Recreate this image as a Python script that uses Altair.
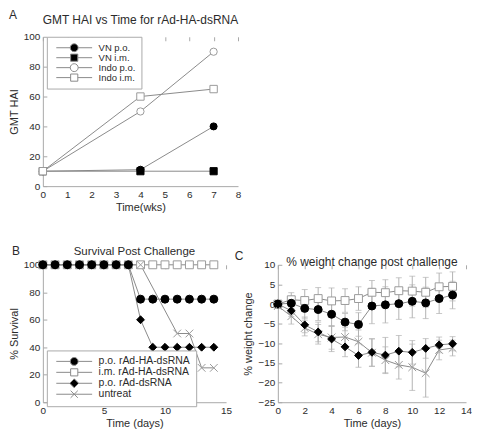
import altair as alt
import pandas as pd

FONT = "Liberation Sans"
LINE = "#8a8a8a"
OPEN = "#9a9a9a"
AXIS = "#a8a8a8"
TXT = "#2b2b2b"
ERR = "#b2b2b2"

# ---------------- Panel A data ----------------
a_weeks = [0, 4, 7]
a_series = ["VN p.o.", "VN i.m.", "Indo p.o.", "Indo i.m."]
a_vn_po = [10, 11, 40]
a_vn_im = [10, 10, 10]
a_indo_po = [10, 50, 90]
a_indo_im = [10, 60, 65]
a_x_ticks = [0, 1, 2, 3, 4, 5, 6, 7, 8]
a_y_ticks = [0, 20, 40, 60, 80, 100]

# ---------------- Panel B data ----------------
b_series = ["p.o. rAd-HA-dsRNA", "i.m. rAd-HA-dsRNA", "p.o. rAd-dsRNA", "untreat"]
b_days = [0, 1, 2, 3, 4, 5, 6, 7, 8, 9, 10, 11, 12, 13, 14]
b_po_ha = [100, 100, 100, 100, 100, 100, 100, 100, 75, 75, 75, 75, 75, 75, 75]
b_im_ha = [100, 100, 100, 100, 100, 100, 100, 100, 100, 100, 100, 100, 100, 100, 100]
b_po_ds = [100, 100, 100, 100, 100, 100, 100, 100, 60, 40, 40, 40, 40, 40, 40]
b_untreat_days = [0, 1, 2, 3, 4, 5, 6, 7, 8, 11, 12, 13, 14]
b_untreat = [100, 100, 100, 100, 100, 100, 100, 100, 100, 50, 50, 25, 25]
b_x_ticks = [0, 5, 10, 15]
b_y_ticks = [0, 20, 40, 60, 80, 100]

# ---------------- Panel C data ----------------
c_days = [0, 1, 2, 3, 4, 5, 6, 7, 8, 9, 10, 11, 12, 13]
c_im_mean = [0, 1.1, 0.9, 1.4, 0.8, 0.9, 1.4, 3.0, 2.9, 3.4, 3.3, 3.0, 4.4, 4.5]
c_im_sd = [0, 1.8, 2.8, 2.8, 3.3, 3.0, 3.0, 3.0, 3.3, 3.3, 3.8, 3.8, 3.5, 3.7]
c_po_mean = [0, 0.2, -1.1, -1.4, -2.6, -4.6, -5.2, -0.5, -0.2, 0.1, 0.7, 0.3, 1.4, 2.3]
c_po_sd = [0, 1.5, 2.5, 2.8, 3.0, 2.2, 3.0, 4.5, 4.6, 4.0, 4.2, 4.0, 3.8, 3.5]
c_ds_mean = [0, -1.7, -5.3, -7.1, -8.9, -10.9, -13.1, -12.3, -13.0, -12.0, -12.3, -11.3, -10.4, -10.1]
c_ds_sd = [0, 1.5, 2.0, 2.5, 3.2, 2.5, 3.0, 3.5, 4.5, 4.0, 3.0, 2.5, 2.0, 1.8]
c_un_mean = [-0.5, -3.1, -6.1, -7.7, -8.5, -8.4, -9.6, -12.4, -14.3, -15.5, -16.1, -17.6, -11.7, -11.2]
c_un_sd = [0.5, 2.0, 2.0, 2.5, 3.0, 2.5, 3.0, 3.5, 3.4, 3.6, 5.9, 6.1, 2.5, 2.0]
c_x_ticks = [0, 2, 4, 6, 8, 10, 12, 14]
c_y_ticks = [-25, -20, -15, -10, -5, 0, 5, 10]

# ---------------- marker shapes ----------------
X_PATH = "M-1,-1L1,1M-1,1L1,-1"
L_CIRCLE = "M-1,0H-0.22M0.22,0H1M0.22,0A0.22,0.22,0,1,1,-0.22,0A0.22,0.22,0,1,1,0.22,0Z"
L_SQUARE = "M-1,0H-0.2M0.2,0H1M-0.2,-0.2H0.2V0.2H-0.2Z"
L_DIAMOND = "M-1,0H-0.25M0.25,0H1M0,-0.25L0.25,0L0,0.25L-0.25,0Z"
L_X = "M-1,0H1M-0.2,-0.2L0.2,0.2M-0.2,0.2L0.2,-0.2"


def ax(vals, title):
    # inward ticks are drawn as short dashed grid segments starting at the axis
    return alt.Axis(values=vals, title=title, labelOverlap=False, labelFlush=False,
                    grid=True, gridDash=[4, 2000], gridColor=AXIS, gridWidth=1,
                    ticks=False)


def text_layer(t, dx, dy, size, align):
    return alt.Chart(pd.DataFrame({"lab": [t]})).mark_text(
        font=FONT, fontSize=size, color=TXT, align=align, baseline="middle"
    ).encode(text="lab:N", x=alt.value(dx), y=alt.value(dy))


def panel(df, xf, yf, xdom, ydom, xt, yt, xtitle, ytitle, domain, shapes, fills,
          strokes, sizes, leg_shapes, leg_fills, title, title_y, title_fs, lab, legpos,
          leg_fs, w, h, extra=None):
    xs = alt.X(f"{xf}:Q", scale=alt.Scale(domain=xdom, nice=False, zero=False),
               axis=ax(xt, xtitle))
    ys = alt.Y(f"{yf}:Q", scale=alt.Scale(domain=ydom, nice=False, zero=False),
               axis=ax(yt, ytitle))
    base = alt.Chart(df)
    lines = base.mark_line(color=LINE, strokeWidth=1).encode(
        x=xs, y=ys, detail="series:N")
    pts = base.mark_point(opacity=1, strokeWidth=1).encode(
        x=xs, y=ys,
        shape=alt.Shape("series:N", scale=alt.Scale(domain=domain, range=shapes), legend=None),
        fill=alt.Fill("series:N", scale=alt.Scale(domain=domain, range=fills), legend=None),
        stroke=alt.Stroke("series:N", scale=alt.Scale(domain=domain, range=strokes), legend=None),
        size=alt.Size("series:N", scale=alt.Scale(domain=domain, range=sizes), legend=None),
    )
    layers = [lines, pts]
    if extra is not None:
        layers = [lines] + extra + [pts]
    if legpos is not None:
        leg = base.transform_filter("false").mark_point(opacity=1, strokeWidth=1).encode(
            x=xs, y=ys,
            shape=alt.Shape("series:N", scale=alt.Scale(domain=domain, range=leg_shapes),
                            legend=alt.Legend(title=None, orient="none",
                                              legendX=legpos[0], legendY=legpos[1],
                                              labelFontSize=leg_fs)),
            fill=alt.Fill("series:N", scale=alt.Scale(domain=domain, range=leg_fills)),
            stroke=alt.Stroke("series:N", scale=alt.Scale(domain=domain, range=[LINE] * len(domain))),
        )
        layers.append(leg)
    layers.append(text_layer(title, w / 2, title_y, title_fs, "center"))
    layers.append(text_layer(lab[0], lab[1], lab[2], 12, "center"))
    return alt.layer(*layers).resolve_scale(
        shape="independent", fill="independent", stroke="independent", size="independent"
    ).properties(width=w, height=h)


# ---------- A ----------
a_rows = []
for s, vals in zip(a_series, [a_vn_po, a_vn_im, a_indo_po, a_indo_im]):
    for wk, v in zip(a_weeks, vals):
        a_rows.append({"week": wk, "gmt": v, "series": s})
dfA = pd.DataFrame(a_rows)

chartA = panel(
    dfA, "week", "gmt", [0, 8], [0, 100], a_x_ticks, a_y_ticks, "Time(wks)", "GMT HAI",
    a_series, ["circle", "square", "circle", "square"],
    ["black", "black", "white", "white"], ["black", "black", OPEN, OPEN],
    [50, 55, 64, 70], [L_CIRCLE, L_SQUARE, L_CIRCLE, L_SQUARE],
    ["black", "black", "white", "white"],
    "GMT HAI vs Time for rAd-HA-dsRNA", -17, 12, ("A", -30, -22), (4, 0), 9.5, 196, 150)

# ---------- B ----------
b_rows = []
draw_order_b = [
    ("i.m. rAd-HA-dsRNA", b_days, b_im_ha),
    ("untreat", b_untreat_days, b_untreat),
    ("p.o. rAd-dsRNA", b_days, b_po_ds),
    ("p.o. rAd-HA-dsRNA", b_days, b_po_ha),
]
for s, ds, vals in draw_order_b:
    for d, v in zip(ds, vals):
        b_rows.append({"day": d, "surv": v, "series": s})
dfB = pd.DataFrame(b_rows)

chartB = panel(
    dfB, "day", "surv", [0, 15], [0, 100], b_x_ticks, b_y_ticks, "Time (days)", "% Survival",
    b_series, ["circle", "square", "diamond", X_PATH],
    ["black", "white", "black", "transparent"], ["black", OPEN, "black", OPEN],
    [64, 60, 64, 72], [L_CIRCLE, L_SQUARE, L_DIAMOND, L_X],
    ["black", "white", "black", "transparent"],
    "Survival Post Challenge", -13, 11.5, ("B", -27, -14), (4, 86), 10.5, 184, 138)

# ---------- C ----------
c_rows = []
draw_order_c = [
    ("i.m. rAd-HA-dsRNA", c_im_mean, c_im_sd),
    ("p.o. rAd-HA-dsRNA", c_po_mean, c_po_sd),
    ("untreat", c_un_mean, c_un_sd),
    ("p.o. rAd-dsRNA", c_ds_mean, c_ds_sd),
]
for s, m, sd in draw_order_c:
    for d, mv, sv in zip(c_days, m, sd):
        c_rows.append({"day": d, "wt": mv, "lo": mv - sv, "hi": mv + sv, "series": s})
dfC = pd.DataFrame(c_rows)

cx = alt.X("day:Q", scale=alt.Scale(domain=[0, 14], nice=False, zero=False),
           axis=ax(c_x_ticks, "Time (days)"))
cy_scale = alt.Scale(domain=[-25, 10], nice=False, zero=False)
cy_axis = ax(c_y_ticks, "% weight change")
err_rule = alt.Chart(dfC).mark_rule(color=ERR, strokeWidth=1).encode(
    x=cx, y=alt.Y("lo:Q", scale=cy_scale, axis=cy_axis), y2="hi:Q")
err_lo = alt.Chart(dfC).mark_tick(color=ERR, orient="horizontal", size=6, thickness=1).encode(
    x=cx, y=alt.Y("lo:Q", scale=cy_scale, axis=cy_axis))
err_hi = alt.Chart(dfC).mark_tick(color=ERR, orient="horizontal", size=6, thickness=1).encode(
    x=cx, y=alt.Y("hi:Q", scale=cy_scale, axis=cy_axis))

chartC = panel(
    dfC, "day", "wt", [0, 14], [-25, 10], c_x_ticks, c_y_ticks, "Time (days)", "% weight change",
    b_series, ["circle", "square", "diamond", X_PATH],
    ["black", "white", "black", "transparent"], ["black", OPEN, "black", OPEN],
    [64, 60, 56, 72], None, None,
    "% weight change post challenge", -3, 12, ("C", -39, -9), None, 10, 189, 138,
    extra=[err_rule, err_lo, err_hi])

placeholder = alt.Chart(pd.DataFrame({"e": []})).mark_point(opacity=0).encode(
    x=alt.value(0), y=alt.value(0)).properties(width=1, height=1)

chart = alt.concat(
    chartA, placeholder, chartB, chartC, columns=2, spacing={"row": 79, "column": 40},
    bounds="flush", padding=0
).configure_view(stroke=None).configure_axis(
    domainColor=AXIS, tickColor=AXIS, labelColor=TXT, titleColor=TXT,
    labelFont=FONT, titleFont=FONT, labelFontSize=10, titleFontSize=11,
    titleFontWeight="normal", labelPadding=3, titlePadding=2,
    domainWidth=1
).configure_axisY(labelPadding=3, titlePadding=4).configure_legend(
    labelFont=FONT, labelFontSize=10, labelColor=TXT, symbolSize=1296,
    symbolStrokeWidth=1, strokeColor="#aaaaaa", fillColor="white", padding=6,
    rowPadding=0, labelOffset=6, symbolOffset=3, cornerRadius=0, clipHeight=10
)

chart.save("out.html", embed_options={"renderer": "svg", "actions": False})
